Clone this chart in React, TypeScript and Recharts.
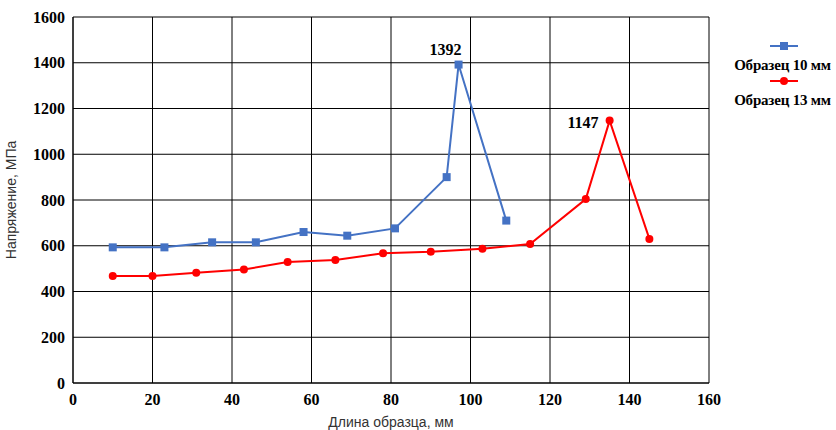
import { LineChart, Line, XAxis, YAxis, CartesianGrid, Label } from "recharts";

// Образец 10 мм
const xs10 = [10, 23, 35, 46, 58, 69, 81, 94, 97, 109];
const ys10 = [593, 593, 615, 615, 660, 644, 676, 900, 1392, 710];

// Образец 13 мм
const xs13 = [10, 20, 31, 43, 54, 66, 78, 90, 103, 115, 129, 135, 145];
const ys13 = [468, 468, 482, 496, 529, 538, 567, 574, 587, 608, 804, 1147, 630];

const xTicks = [0, 20, 40, 60, 80, 100, 120, 140, 160];
const yTicks = [0, 200, 400, 600, 800, 1000, 1200, 1400, 1600];

const seriesNames = ["Образец 10 мм", "Образец 13 мм"];
const BLUE = "#4472C4";
const RED = "#FF0000";

const data10 = xs10.map((x, i) => ({ x, y: ys10[i] }));
const data13 = xs13.map((x, i) => ({ x, y: ys13[i] }));
const peak10 = ys10.indexOf(Math.max(...ys10));
const peak13 = ys13.indexOf(Math.max(...ys13));

const serif = "'Liberation Serif', 'Times New Roman', serif";
const sans = "'Liberation Sans', Arial, sans-serif";

const SquareDot = (props: any) => {
  const { cx, cy, index } = props;
  return <rect key={index} x={cx - 4} y={cy - 4} width={8} height={8} fill={BLUE} />;
};

const RoundDot = (props: any) => {
  const { cx, cy, index } = props;
  return <circle key={index} cx={cx} cy={cy} r={4} fill={RED} />;
};

const peakLabel = (peak: number, dx: number, dy: number) => (props: any) => {
  const { x, y, value, index } = props;
  if (index !== peak) return null;
  return (
    <text x={x + dx} y={y + dy} textAnchor="end" fontFamily={serif} fontWeight="bold" fontSize={16} fill="#000">
      {value}
    </text>
  );
};

const ChartLegend = () => (
  <div
    style={{
      position: "absolute",
      left: 720,
      top: 41,
      width: 125,
      fontFamily: serif,
      fontWeight: "bold",
      fontSize: 15,
      letterSpacing: -0.2,
      lineHeight: "18px",
      color: "#000",
    }}
  >
    {seriesNames.map((name, i) => (
      <div key={name} style={{ display: "flex", flexDirection: "column", alignItems: "center", marginBottom: 2 }}>
        <svg width={28} height={10} style={{ marginLeft: 2, display: "block" }}>
          <line x1={0} y1={5} x2={28} y2={5} stroke={i === 0 ? BLUE : RED} strokeWidth={2} />
          {i === 0 ? <rect x={10} y={1} width={8} height={8} fill={BLUE} /> : <circle cx={14} cy={5} r={4} fill={RED} />}
        </svg>
        <div style={{ whiteSpace: "nowrap", marginTop: 5 }}>{name}</div>
      </div>
    ))}
  </div>
);

export default function App() {
  return (
    <div style={{ position: "absolute", left: 0, top: 0, width: 836, height: 430, background: "#fff", overflow: "hidden" }}>
      <LineChart width={836} height={430} margin={{ top: 17, right: 127, left: 13, bottom: 7 }}>
        <CartesianGrid stroke="#000" strokeWidth={1} />
        <XAxis
          type="number"
          dataKey="x"
          domain={[0, 160]}
          ticks={xTicks}
          height={40}
          tickLine={false}
          axisLine={{ stroke: "#000" }}
          tick={{ fontFamily: serif, fontWeight: "bold", fontSize: 16, fill: "#000", dy: 3 }}
          allowDuplicatedCategory={false}
        >
          <Label value="Длина образца, мм" position="insideBottom" offset={-4} style={{ fontFamily: sans, fontSize: 14, fill: "#333" }} />
        </XAxis>
        <YAxis
          type="number"
          dataKey="y"
          domain={[0, 1600]}
          ticks={yTicks}
          width={60}
          tickLine={false}
          axisLine={{ stroke: "#000" }}
          tick={{ fontFamily: serif, fontWeight: "bold", fontSize: 16, fill: "#000" }}
        >
          <Label value="Напряжение, МПа" angle={-90} position="insideLeft" offset={-2} style={{ textAnchor: "middle", fontFamily: sans, fontSize: 14, fill: "#333" }} />
        </YAxis>
        <Line
          data={data10}
          dataKey="y"
          name={seriesNames[0]}
          stroke={BLUE}
          strokeWidth={2}
          dot={SquareDot}
          activeDot={false}
          label={peakLabel(peak10, 3, -10)}
          isAnimationActive={false}
        />
        <Line
          data={data13}
          dataKey="y"
          name={seriesNames[1]}
          stroke={RED}
          strokeWidth={2}
          dot={RoundDot}
          activeDot={false}
          label={peakLabel(peak13, -11, 7)}
          isAnimationActive={false}
        />
      </LineChart>
      <ChartLegend />
    </div>
  );
}
